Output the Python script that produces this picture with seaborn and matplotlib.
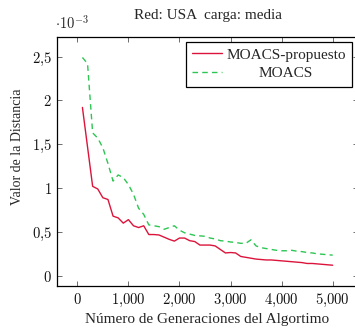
import matplotlib
matplotlib.use("Agg")
import matplotlib.pyplot as plt
import numpy as np
import pandas as pd
import seaborn as sns
from matplotlib.ticker import FixedLocator, FuncFormatter

# ---------------- data (values in units of 10^-3) ----------------
generaciones = list(range(100, 5001, 100))
moacs_propuesto = [1.92, 1.47, 1.02, 0.99, 0.89, 0.87, 0.68, 0.66, 0.60, 0.64,
                   0.57, 0.55, 0.57, 0.47, 0.47, 0.465, 0.44, 0.415, 0.395, 0.43,
                   0.43, 0.40, 0.39, 0.35, 0.35, 0.35, 0.34, 0.30, 0.26, 0.265,
                   0.26, 0.22, 0.21, 0.20, 0.19, 0.185, 0.18, 0.18, 0.175, 0.17,
                   0.165, 0.16, 0.155, 0.15, 0.14, 0.14, 0.135, 0.13, 0.125, 0.12]
moacs = [2.49, 2.42, 1.63, 1.57, 1.46, 1.28, 1.08, 1.15, 1.12, 1.04,
         0.93, 0.77, 0.70, 0.58, 0.57, 0.56, 0.53, 0.55, 0.57, 0.52,
         0.49, 0.475, 0.46, 0.455, 0.45, 0.43, 0.42, 0.40, 0.395, 0.385,
         0.38, 0.37, 0.37, 0.41, 0.34, 0.32, 0.31, 0.30, 0.29, 0.285,
         0.285, 0.29, 0.28, 0.275, 0.265, 0.26, 0.25, 0.245, 0.24, 0.235]
series_names = ["MOACS-propuesto", "MOACS"]
x_ticks = [0, 1000, 2000, 3000, 4000, 5000]
y_ticks = [0, 0.5, 1, 1.5, 2, 2.5]
title_text = "Red: USA  carga: media"
x_label = "Número de Generaciones del Algortimo"
y_label = "Valor de la Distancia"
scale_label = r"$\cdot 10^{-3}$"

colors = {"MOACS-propuesto": "#DC143C", "MOACS": "#2DC653"}
dash_map = {"MOACS-propuesto": "", "MOACS": (4, 3)}

df = pd.DataFrame({
    "Generaciones": generaciones * 2,
    "Valor": moacs_propuesto + moacs,
    "Serie": [series_names[0]] * len(generaciones) + [series_names[1]] * len(generaciones),
})

sns.set_theme(style="ticks")
plt.rcParams['font.family'] = ['Liberation Serif', 'DejaVu Serif']
plt.rcParams['mathtext.fontset'] = 'cm'

W, H = 355, 333
fig = plt.figure(figsize=(W / 100, H / 100), dpi=100)
ax_left, ax_right, ax_top, ax_bottom = 57.4, 357.7, 36.7, 286.0
ax = fig.add_axes([ax_left / W, (H - ax_bottom) / H,
                   (ax_right - ax_left) / W, (ax_bottom - ax_top) / H])

sns.lineplot(data=df, x="Generaciones", y="Valor", hue="Serie", style="Serie",
             palette=colors, dashes=dash_map, linewidth=1.0,
             estimator=None, errorbar=None, ax=ax)

ax.set_xlim(-390, 5490)
ax.set_ylim(-0.117, 2.727)

ax.xaxis.set_major_locator(FixedLocator(x_ticks))
ax.yaxis.set_major_locator(FixedLocator(y_ticks))

def fmt_x(v, pos):
    s = f"{int(round(v)):,}".replace(",", "{,}")
    return f"${s}$"

def fmt_y(v, pos):
    s = f"{v:g}".replace(".", "{,}")
    return f"${s}$"

ax.xaxis.set_major_formatter(FuncFormatter(fmt_x))
ax.yaxis.set_major_formatter(FuncFormatter(fmt_y))

ax.tick_params(axis="both", direction="in", length=3.5, width=0.6, color="#555555",
               top=True, right=True, bottom=True, left=True, labelsize=10.5,
               labelcolor="#111111")
ax.tick_params(axis="x", pad=4)
ax.tick_params(axis="y", pad=4)

for sp in ax.spines.values():
    sp.set_color("black")
    sp.set_linewidth(0.9)
    sp.set_visible(True)

ax.set_title(title_text, fontsize=11, pad=0, y=1.0)
ax.title.set_position((0.5, (ax_bottom - 18.5) / (ax_bottom - ax_top)))
ax.title.set_va("baseline")

ax.set_xlabel(x_label, fontsize=11, va="center")
ax.xaxis.set_label_coords(0.5, (ax_bottom - 319.5) / (ax_bottom - ax_top))
ax.set_ylabel(y_label, fontsize=10, va="center")
ax.yaxis.set_label_coords((18 - ax_left) / (ax_right - ax_left),
                          (ax_bottom - 147) / (ax_bottom - ax_top))

fig.text(55 / W, (H - 28.5) / H, scale_label, fontsize=10.5, ha="left", va="baseline")

# legend
old = ax.get_legend()
handles = list(old.legend_handles)
labels = [t.get_text() for t in old.get_texts()]
old.remove()
leg = ax.legend(handles, labels, loc="upper right",
                bbox_to_anchor=((352 - ax_left) / (ax_right - ax_left),
                                (ax_bottom - 41.7) / (ax_bottom - ax_top)),
                borderaxespad=0, fontsize=11, frameon=True, fancybox=False,
                edgecolor="black", framealpha=1, borderpad=0.42,
                handlelength=1.9, handletextpad=0.3, labelspacing=0.3)
leg.get_frame().set_linewidth(0.9)

fig.canvas.draw()
texts = leg.get_texts()
r = fig.canvas.get_renderer()
widths = [t.get_window_extent(r).width for t in texts]
wmax = max(widths)
for t, w in zip(texts, widths):
    t.set_x((wmax - w) / 2)

fig.savefig("out.png", dpi=100)
